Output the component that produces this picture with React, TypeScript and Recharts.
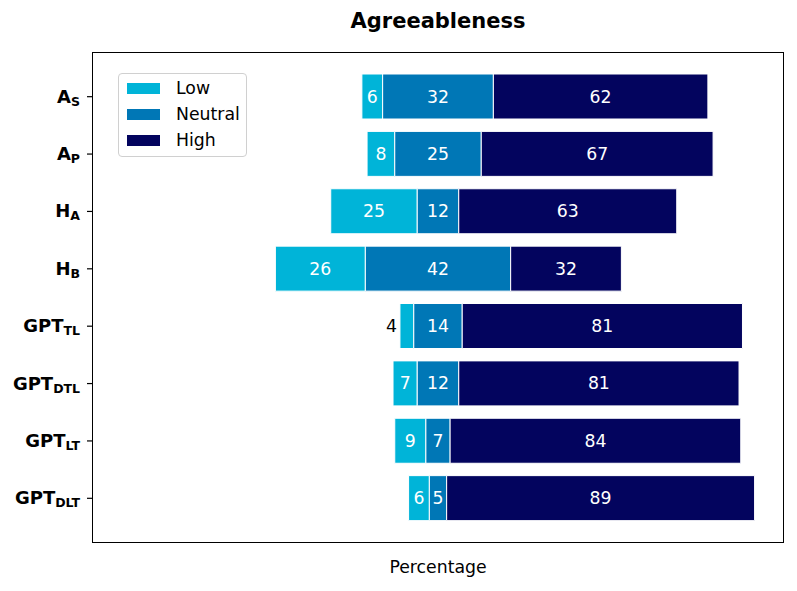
import { BarChart, Bar, XAxis, YAxis, LabelList } from "recharts";

const tickMain = ["A", "A", "H", "H", "GPT", "GPT", "GPT", "GPT"];
const tickSub = ["S", "P", "A", "B", "TL", "DTL", "LT", "DLT"];
const low = [6, 8, 25, 26, 4, 7, 9, 6];
const neutral = [32, 25, 12, 42, 14, 12, 7, 5];
const high = [62, 67, 63, 32, 81, 81, 84, 89];

const colors = { low: "#00b4d8", neutral: "#0077b6", high: "#03045e" };
const FONT = "'DejaVu Sans', sans-serif";
const FS = 17.3;

// shift every row so the middle of the neutral block sits at 100
const data = tickMain.map((m, i) => ({
  name: i,
  offset: 100 - low[i] - neutral[i] / 2,
  low: low[i],
  neutral: neutral[i],
  high: high[i],
}));

const YTick = (props: any) => {
  const { x, y, payload } = props;
  const i = payload.value;
  return (
    <text x={x} y={y} textAnchor="end" fontFamily={FONT} fontWeight="bold" fill="#000">
      <tspan fontSize={18} dy={6}>{tickMain[i]}</tspan>
      <tspan fontSize={12.5} dy={3}>{tickSub[i]}</tspan>
    </text>
  );
};

const inLabel = (props: any) => {
  const { x, y, width, height, value } = props;
  if (value < 5) {
    return (
      <text x={x - 3} y={y + height / 2} textAnchor="end" dominantBaseline="central" fontFamily={FONT} fontSize={FS} fill="#000">
        {value}
      </text>
    );
  }
  return (
    <text x={x + width / 2} y={y + height / 2} textAnchor="middle" dominantBaseline="central" fontFamily={FONT} fontSize={FS} fill="#fff">
      {value}
    </text>
  );
};

const legendItems = [
  { label: "Low", color: colors.low },
  { label: "Neutral", color: colors.neutral },
  { label: "High", color: colors.high },
];

const LegendBox = () => (
  <div
    style={{
      position: "absolute",
      left: 118,
      top: 73,
      width: 129,
      height: 84,
      boxSizing: "border-box",
      border: "1px solid #d0d0d0",
      borderRadius: 4,
      background: "rgba(255,255,255,0.8)",
      fontFamily: FONT,
      fontSize: FS,
    }}
  >
    {legendItems.map((it, k) => (
      <div key={it.label} style={{ position: "absolute", left: 8, top: 5 + k * 26, height: 18, display: "flex", alignItems: "center" }}>
        <div style={{ width: 33, height: 11, background: it.color }} />
        <span style={{ marginLeft: 16, lineHeight: "18px", color: "#000" }}>{it.label}</span>
      </div>
    ))}
  </div>
);

export default function App() {
  return (
    <div style={{ position: "absolute", left: 0, top: 0, width: 797, height: 591, background: "#fff" }}>
      <div style={{ position: "absolute", left: 0, width: 876, top: 11, textAlign: "center", fontFamily: FONT, fontWeight: "bold", fontSize: 21, lineHeight: "21px" }}>
        Agreeableness
      </div>
      <BarChart
        width={797}
        height={591}
        data={data}
        layout="vertical"
        margin={{ top: 52, right: 13, bottom: 48, left: 0 }}
        barSize={45}
      >
        <XAxis type="number" domain={[0, 200]} hide />
        <YAxis
          type="category"
          dataKey="name"
          width={92}
          tick={<YTick />}
          tickSize={5}
          tickMargin={7}
          tickLine={{ stroke: "#000", strokeWidth: 1.2 }}
          axisLine={false}
          padding={{ top: 16, bottom: 16 }}
          interval={0}
        />
        <Bar dataKey="offset" stackId="a" fill="transparent" isAnimationActive={false} />
        <Bar dataKey="low" stackId="a" fill={colors.low} stroke="#fff" strokeWidth={1} isAnimationActive={false}>
          <LabelList dataKey="low" content={inLabel} />
        </Bar>
        <Bar dataKey="neutral" stackId="a" fill={colors.neutral} stroke="#fff" strokeWidth={1} isAnimationActive={false}>
          <LabelList dataKey="neutral" content={inLabel} />
        </Bar>
        <Bar dataKey="high" stackId="a" fill={colors.high} stroke="#fff" strokeWidth={1} isAnimationActive={false}>
          <LabelList dataKey="high" content={inLabel} />
        </Bar>
      </BarChart>
      <LegendBox />
      <div style={{ position: "absolute", left: 92, top: 52, width: 692, height: 491, boxSizing: "border-box", border: "1.2px solid #000", pointerEvents: "none" }} />
      <div style={{ position: "absolute", left: 0, width: 876, top: 559, textAlign: "center", fontFamily: FONT, fontSize: FS, lineHeight: "17px" }}>
        Percentage
      </div>
    </div>
  );
}
